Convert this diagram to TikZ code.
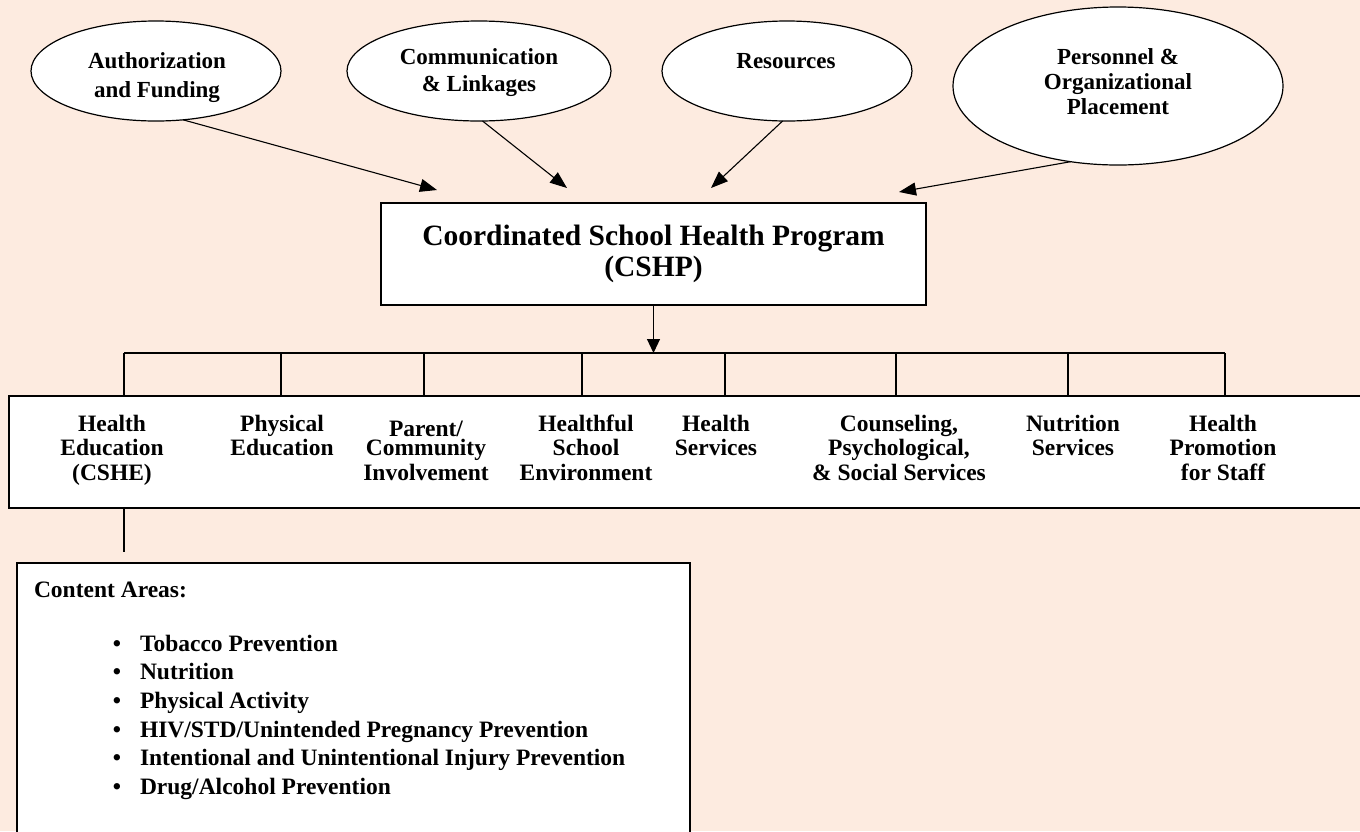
\documentclass[tikz,border=0pt]{standalone}
\usepackage{fontspec}
\setmainfont{Liberation Serif}
\usetikzlibrary{shapes.geometric,arrows.meta}
\definecolor{peach}{RGB}{253,235,224}
\newcommand{\mlines}[1]{\begin{tabular}[t]{@{}c@{}}#1\end{tabular}}
\begin{document}
\begin{tikzpicture}[x={(1pt,0pt)},y={(0pt,-1pt)},
  ell/.style={ellipse, draw, fill=white, line width=1.2pt, inner sep=0pt, outer sep=0pt},
  boxx/.style={rectangle, draw, fill=white, line width=1.2pt, inner sep=0pt, outer sep=0pt},
  txt/.style={inner sep=0pt, outer sep=0pt, anchor=base},
  arr/.style={-{Triangle[length=17pt,width=13pt]}, line width=1.1pt},
  ln/.style={line width=1.2pt}]
\useasboundingbox (0,0) rectangle (1360,831);
\clip (0,0) rectangle (1360,831);
\fill[peach] (0,0) rectangle (1360,831);

% ellipses
\node[ell, minimum width=250pt, minimum height=100pt] (e1) at (156,71) {};
\node[ell, minimum width=264pt, minimum height=100pt] (e2) at (479,71) {};
\node[ell, minimum width=250pt, minimum height=100pt] (e3) at (787,71) {};
\node[ell, minimum width=330pt, minimum height=158pt] (e4) at (1118,86) {};
\node[txt, font=\fontsize{23}{29}\selectfont\bfseries] (e1t) at (157,68) {\mlines{Authorization\\and Funding}};
\node[txt, font=\fontsize{23}{27}\selectfont\bfseries] (e2t) at (479,64) {\mlines{Communication\\\& Linkages}};
\node[txt, font=\fontsize{23}{27}\selectfont\bfseries] (e3t) at (786,68) {Resources};
\node[txt, font=\fontsize{23}{25}\selectfont\bfseries] (e4t) at (1118,64) {\mlines{Personnel \&\\Organizational\\Placement}};

% main box
\node[boxx, minimum width=545pt, minimum height=102pt] (main) at (653.5,254) {};
\node[txt, font=\fontsize{29.5}{31}\selectfont\bfseries] (maint) at (653.5,245.5) {\mlines{Coordinated School Health Program\\(CSHP)}};

% arrow tips
\coordinate (t1) at (437,190);
\coordinate (t2) at (567,188);
\coordinate (t3) at (711,188);
\coordinate (t4) at (899,192);
\draw[arr] (e1.-61.5) -- (t1);
\draw[arr] (e2.-86) -- (t2);
\draw[arr] (e3.-95) -- (t3);
\draw[arr] (e4.-122.5) -- (t4);

% components box
\node[boxx, minimum width=1366pt, minimum height=112pt] (comp) at (692,452) {};

% bus
\coordinate (b1) at (124,353);
\coordinate (b2) at (281,353);
\coordinate (b3) at (424,353);
\coordinate (b4) at (582,353);
\coordinate (b5) at (725,353);
\coordinate (b6) at (896,353);
\coordinate (b7) at (1068,353);
\coordinate (b8) at (1225,353);
\coordinate (bm) at (653.5,353);
\draw[ln] (b1) -- (b8);
\foreach \b in {b1,b2,b3,b4,b5,b6,b7,b8} \draw[ln] (\b) -- (\b |- comp.north);
\draw[-{Triangle[length=14pt,width=13pt]}, line width=1.1pt] (main.south) -- (bm);

% component labels
\begin{scope}[every node/.style={txt, font=\fontsize{23.5}{24.5}\selectfont\bfseries}]
\node (c1) at (112,431) {\mlines{Health\\Education\\(CSHE)}};
\node (c2) at (282,431) {\mlines{Physical\\Education}};
\node (c3) at (426,436) {\mlines{Parent/\\[-5pt]Community\\Involvement}};
\node (c4) at (586,431) {\mlines{Healthful\\School\\Environment}};
\node (c5) at (716,431) {\mlines{Health\\Services}};
\node (c6) at (899,431) {\mlines{Counseling,\\Psychological,\\\& Social Services}};
\node (c7) at (1073,431) {\mlines{Nutrition\\Services}};
\node (c8) at (1223,431) {\mlines{Health\\Promotion\\for Staff}};
\end{scope}

% content box
\node[boxx, minimum width=673pt, minimum height=337pt] (cont) at (353.5,731.5) {};
\coordinate (hend) at (124,552);
\draw[ln] (comp.south -| b1) -- (hend);

\begin{scope}[every node/.style={inner sep=0pt, outer sep=0pt, anchor=base west, font=\fontsize{23.5}{28}\selectfont\bfseries}]
\node (ca) at (34,597) {Content Areas:};
\node (l1) at (140,651) {Tobacco Prevention};
\node (l2) at (140,679.5) {Nutrition};
\node (l3) at (140,708) {Physical Activity};
\node (l4) at (140,737) {HIV/STD/Unintended Pregnancy Prevention};
\node (l5) at (140,765.5) {Intentional and Unintentional Injury Prevention};
\node (l6) at (140,794) {Drug/Alcohol Prevention};
\end{scope}
\begin{scope}[every node/.style={inner sep=0pt, outer sep=0pt, anchor=base, font=\fontsize{23.5}{28}\selectfont\bfseries}]
\node (u1) at (117,651) {\textbullet};
\node (u2) at (117,679.5) {\textbullet};
\node (u3) at (117,708) {\textbullet};
\node (u4) at (117,737) {\textbullet};
\node (u5) at (117,765.5) {\textbullet};
\node (u6) at (117,794) {\textbullet};
\end{scope}
\end{tikzpicture}
\end{document}
